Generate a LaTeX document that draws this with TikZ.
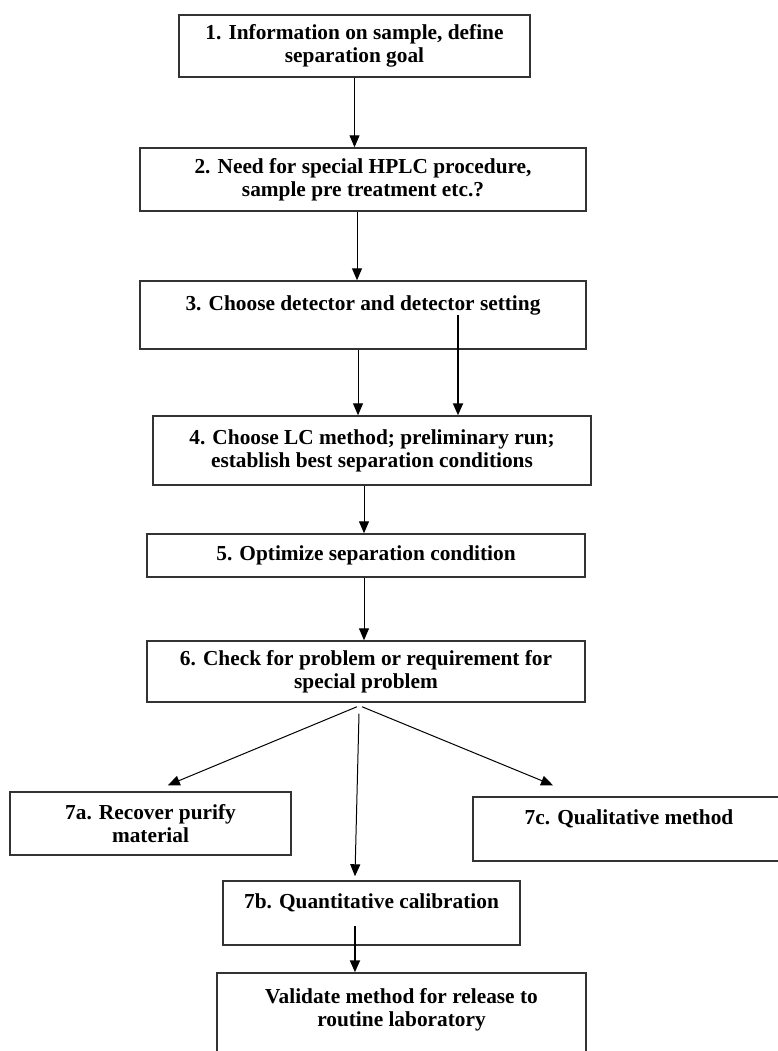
\documentclass[tikz,border=0pt]{standalone}
\usepackage{fontspec}
\setmainfont{Liberation Serif}
\usetikzlibrary{positioning}
\usetikzlibrary{arrows.meta}
\tikzset{stepbox/.style={draw=black!80,line width=1.1pt,inner sep=0pt,align=center,font=\bfseries\fontsize{16}{17.25}\selectfont}}
\tikzset{ar/.style={-{Triangle[length=9pt,width=7.5pt]},line width=0.75pt}}
\tikzset{thickar/.style={ar,line width=1.5pt}}

\begin{document}
\begin{tikzpicture}[x=0.75pt,y=-0.75pt]
\useasboundingbox (0,0) rectangle (778,1051);

\node[stepbox,minimum width=263.25pt,minimum height=46.5pt] (info) at (354.5,46) {1. Information on sample, define\\separation goal};
\node[stepbox,minimum width=334.5pt,minimum height=47.25pt] (need) at (363,179.5) {2. Need for special HPLC procedure,\\sample pre treatment etc.?};
\node[stepbox,minimum width=334.5pt,minimum height=51pt] (detect) at (363,315) {3. Choose detector and detector setting\\ \mbox{}};
\node[stepbox,minimum width=328.5pt,minimum height=51.75pt] (method) at (372,450.5) {4. Choose LC method; preliminary run;\\establish best separation conditions};
\node[stepbox,minimum width=328.5pt,minimum height=32.25pt] (optim) at (366,555.5) {5. Optimize separation condition};
\node[stepbox,minimum width=328.5pt,minimum height=45.75pt] (check) at (366,671.5) {6. Check for problem or requirement for\\special problem};

\node[stepbox,minimum width=210.75pt,minimum height=47.25pt] (recover) at (150.5,823.5) {7a. Recover purify\\material};
\node[stepbox,minimum width=234pt,minimum height=48pt] (qual) at (629,829) {7c. Qualitative method\\ \mbox{}};
\node[stepbox,minimum width=222.75pt,minimum height=48pt] (quant) at (371.5,913) {7b. Quantitative calibration\\ \mbox{}};
\node[stepbox,minimum width=276.75pt,minimum height=69pt] (valid) at (401.5,1019) {Validate method for release to\\routine laboratory\\ \mbox{}};

% free ends of the connectors
\coordinate (detectR) at ([xshift=71.25pt]detect.center);
\coordinate (checkL) at ([xshift=-6.75pt,yshift=-3pt]check.south);
\coordinate (checkM) at ([xshift=-5.25pt,yshift=-8.25pt]check.south);
\coordinate (checkR) at ([xshift=-3pt,yshift=-3pt]check.south);
\coordinate (recoverT) at ([xshift=13pt,yshift=4.5pt]recover.north);
\coordinate (quantT) at ([xshift=-12.4pt,yshift=3pt]quant.north);
\coordinate (qualT) at ([xshift=-57pt,yshift=8.25pt]qual.north);
\coordinate (quantS) at ([xshift=-12.4pt,yshift=-9.75pt]quant.center);

\draw[ar] (info.south) -- (info.south |- need.north);
\draw[ar] ([xshift=-4.5pt]need.south) -- ([xshift=-4.5pt]need.south |- detect.north);
\draw[ar] ([xshift=-3.75pt]detect.south) -- ([xshift=-3.75pt]detect.south |- method.north);
\draw[thickar] (detectR) -- (detectR |- method.north);
\draw[ar] ([xshift=-6pt]method.south) -- ([xshift=-6pt]method.south |- optim.north);
\draw[ar] ([xshift=-1.5pt]optim.south) -- ([xshift=-1.5pt]optim.south |- check.north);

\draw[ar] (checkL) -- (recoverT);
\draw[ar] (checkM) -- (quantT);
\draw[ar] (checkR) -- (qualT);
\draw[thickar] (quantS) -- (quantS |- valid.north);
\end{tikzpicture}
\end{document}
